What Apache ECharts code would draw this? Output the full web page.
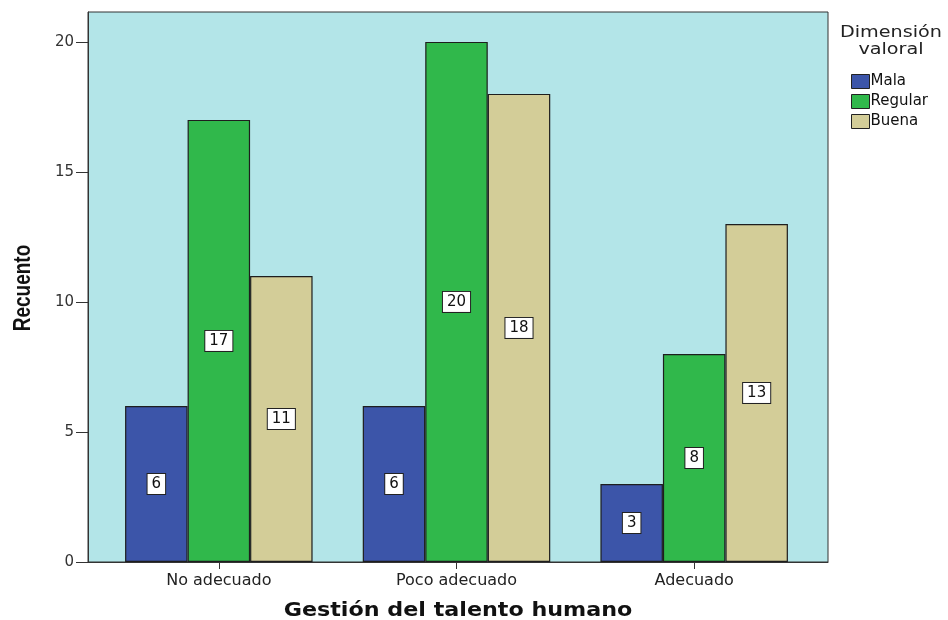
<!DOCTYPE html>
<html>
<head>
<meta charset="utf-8">
<script src="https://cdn.jsdelivr.net/npm/echarts@6/dist/echarts.min.js"></script>
<style>
  html, body { margin: 0; padding: 0; background: #ffffff; }
  #chart { width: 948px; height: 620px; }
</style>
</head>
<body>
<div id="chart"></div>
<script>
// Recuento por nivel de gestión del talento humano y dimensión valoral
const categories = ['No adecuado', 'Poco adecuado', 'Adecuado'];
const seriesNames = ['Mala', 'Regular', 'Buena'];
const mala = [6, 6, 3];
const regular = [17, 20, 8];
const buena = [11, 18, 13];
const yTicks = [0, 5, 10, 15, 20];

const colors = ['#3c55a9', '#30b84b', '#d3cd98'];
const SANS = 'Liberation Sans, Arial, sans-serif';
const WIDE = 'DejaVu Sans, Verdana, sans-serif';

const plotTop = 12, plotBottom = 58;
const yMax = 21.15;

function barSeries(name, data, color) {
  return {
    name: name,
    type: 'bar',
    xAxisIndex: 1,
    yAxisIndex: 1,
    data: data,
    barWidth: 62.5,
    barGap: '0%',
    itemStyle: { color: color, borderColor: '#1e1e1e', borderWidth: 1.2 },
    label: {
      show: true,
      position: 'inside',
      color: '#111',
      fontFamily: WIDE,
      fontSize: 15,
      backgroundColor: '#ffffff',
      borderColor: '#222',
      borderWidth: 1,
      padding: [3, 4, 2, 4]
    },
    emphasis: { disabled: true }
  };
}

const chart = echarts.init(document.getElementById('chart'), null, { renderer: 'canvas' });
chart.setOption({
  animation: false,
  backgroundColor: '#ffffff',
  grid: [
    { left: 88, right: 120, top: plotTop, bottom: plotBottom, show: true, outerBoundsMode: 'none',
      backgroundColor: '#b3e5e8', borderColor: '#333', borderWidth: 1 },
    { left: 100, width: 713, top: plotTop, bottom: plotBottom, outerBoundsMode: 'none' }
  ],
  xAxis: [
    { type: 'category', gridIndex: 0, data: [''],
      axisLine: { show: true, lineStyle: { color: '#333', width: 1 } },
      axisTick: { show: false }, axisLabel: { show: false }, splitLine: { show: false } },
    { type: 'category', gridIndex: 1, data: categories,
      axisLine: { show: false },
      axisTick: { show: true, alignWithLabel: true, length: 7, lineStyle: { color: '#333' } },
      axisLabel: { color: '#222', fontFamily: WIDE, fontSize: 16, margin: 11 } }
  ],
  yAxis: [
    { type: 'value', gridIndex: 0, min: 0, max: yMax, interval: 5,
      axisLine: { show: true, lineStyle: { color: '#333' } },
      axisTick: { show: true, length: 12, lineStyle: { color: '#333' }, customValues: yTicks },
      axisLabel: { color: '#333', fontFamily: WIDE, fontSize: 15, margin: 14, customValues: yTicks },
      splitLine: { show: false } },
    { type: 'value', gridIndex: 1, min: 0, max: yMax, show: false, splitLine: { show: false } }
  ],
  legend: {
    orient: 'vertical',
    left: 846,
    top: 69,
    itemWidth: 18,
    itemHeight: 14,
    itemGap: 5,
    icon: 'rect',
    data: seriesNames,
    itemStyle: { borderColor: '#222', borderWidth: 1 },
    textStyle: { fontFamily: WIDE, fontSize: 15, lineHeight: 14, color: '#111', padding: [0, 0, 0, -4] }
  },
  graphic: [
    { type: 'text', x: 891, y: 33, scaleX: 1.28,
      style: { text: 'Dimensión', x: 0, y: 0, align: 'center', verticalAlign: 'middle',
               font: '15px ' + WIDE, fill: '#222' } },
    { type: 'text', x: 891, y: 50, scaleX: 1.28,
      style: { text: 'valoral', x: 0, y: 0, align: 'center', verticalAlign: 'middle',
               font: '15px ' + WIDE, fill: '#222' } },
    { type: 'text', x: 458, y: 611, scaleX: 1.17,
      style: { text: 'Gestión del talento humano', x: 0, y: 0, align: 'center', verticalAlign: 'middle',
               font: 'bold 19px ' + WIDE, fill: '#111' } },
    { type: 'text', x: 23, y: 288, rotation: Math.PI / 2, scaleY: 1.3,
      style: { text: 'Recuento', x: 0, y: 0, align: 'center', verticalAlign: 'middle',
               font: 'bold 19px ' + SANS, fill: '#111' } }
  ],
  series: [
    barSeries(seriesNames[0], mala, colors[0]),
    barSeries(seriesNames[1], regular, colors[1]),
    barSeries(seriesNames[2], buena, colors[2])
  ]
});
</script>
</body>
</html>
